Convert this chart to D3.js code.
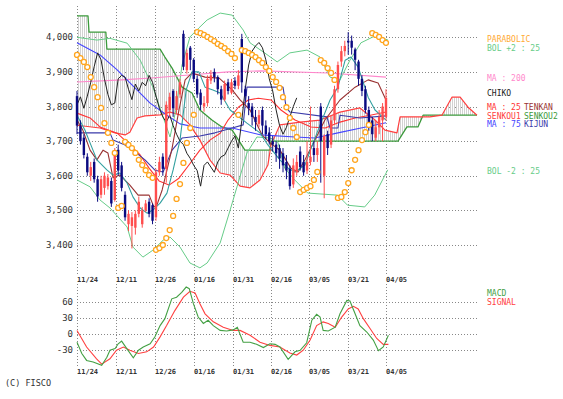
<!DOCTYPE html>
<html><head><meta charset="utf-8">
<script src="https://cdn.jsdelivr.net/npm/d3@7/dist/d3.min.js"></script>
<style>body{margin:0;background:#fff}svg{display:block}</style>
</head><body>
<svg id="chart" width="563" height="399"></svg>
<script>
// ---------- data ----------
const dateLabels = ["11/24","12/11","12/26","01/16","01/31","02/16","03/05","03/21","04/05"];
const dateTickIdx = [0, 11.4, 22.7, 34.1, 45.4, 56.5, 67.6, 79, 90];
const priceTicks = [3400,3500,3600,3700,3800,3900,4000];
const macdTicks = [60,30,0,-30];

const opens  = [3830,3745,3710,3655,3600,3640,3590,3545,3565,3570,3585,3530,3675,3630,3545,3460,3455,3450,3490,3460,3500,3525,3515,3480,3610,3655,3620,3790,3845,3790,3835,4010,3905,3970,3935,3880,3840,3800,3810,3875,3900,3885,3850,3820,3870,3840,3875,3860,3995,3850,3810,3800,3770,3750,3790,3745,3725,3700,3690,3680,3665,3640,3620,3575,3610,3670,3640,3615,3640,3680,3660,3800,3600,3720,3690,3760,3850,3930,3960,3990,3990,3965,3930,3880,3850,3790,3760,3710,3740,3760,3770];
const highs  = [3845,3760,3720,3665,3640,3650,3600,3600,3610,3605,3595,3680,3690,3640,3555,3500,3495,3500,3540,3510,3530,3535,3520,3620,3655,3665,3815,3840,3850,3845,3880,4020,3965,3975,3940,3890,3850,3830,3890,3905,3910,3890,3860,3875,3880,3880,3885,3905,4010,3860,3830,3810,3790,3790,3800,3760,3740,3715,3700,3690,3680,3660,3630,3650,3660,3685,3660,3700,3800,3700,3700,3810,3720,3730,3775,3860,3930,3975,3990,4015,4005,3970,3935,3890,3860,3800,3770,3760,3790,3810,3850];
const lows   = [3720,3690,3650,3600,3585,3580,3525,3535,3545,3560,3510,3525,3600,3555,3470,3440,3390,3430,3480,3450,3495,3480,3460,3470,3600,3600,3580,3770,3770,3780,3825,3905,3895,3905,3870,3825,3790,3785,3800,3865,3870,3835,3805,3815,3835,3835,3850,3850,3840,3815,3775,3745,3730,3740,3720,3705,3690,3670,3640,3620,3610,3590,3560,3565,3600,3615,3600,3605,3630,3640,3640,3580,3535,3660,3680,3750,3840,3915,3945,3950,3950,3905,3860,3830,3780,3730,3700,3700,3720,3700,3760];
const closes = [3745,3700,3660,3610,3625,3590,3540,3590,3600,3595,3520,3660,3615,3565,3480,3490,3480,3490,3525,3500,3520,3490,3470,3610,3640,3620,3805,3828,3795,3830,3870,3915,3955,3935,3880,3835,3805,3810,3880,3890,3885,3850,3820,3865,3845,3870,3860,3890,3870,3830,3795,3770,3755,3775,3745,3720,3700,3690,3665,3650,3630,3615,3570,3630,3640,3625,3610,3640,3655,3660,3680,3700,3715,3680,3760,3850,3920,3960,3975,3985,3970,3935,3880,3845,3790,3745,3720,3740,3770,3800,3825];

// [day index, value] pairs
const ma25 = [[0,3781],[3.8,3767],[6.7,3741],[11.7,3723],[15.4,3689],[18.4,3660],[21,3622],[23.9,3585],[26.8,3573],[29.7,3593],[32.6,3631],[35.8,3674],[38.7,3703],[41.7,3723],[44,3761],[47,3798],[49.9,3819],[52.8,3824],[56.5,3819],[59.4,3790],[63.5,3761],[68.2,3741],[72.3,3738],[76.6,3755],[81,3767],[85.4,3775],[90,3784]];
const ma75 = [[0,3984],[6.7,3949],[11.7,3906],[16.3,3860],[21.3,3810],[26.2,3775],[30,3750],[35.8,3738],[45.2,3738],[53.6,3718],[63.5,3712],[69.3,3709],[76,3724],[82.7,3738],[90,3753]];
const ma200 = [[0,3871],[13.1,3877],[22.7,3883],[32.6,3891],[44,3900],[53.6,3903],[73.1,3897],[90,3885]];
const bolUpper = [[0,4000],[5.8,3992],[9.6,3997],[14.6,3983],[18.4,3934],[22.1,3856],[25.1,3769],[27.1,3712],[28.8,3790],[30.6,3920],[32.9,4001],[35.5,4027],[37.9,4050],[41.7,4070],[45.2,4064],[48.4,4021],[50.4,3984],[54.2,3958],[58.3,3929],[62,3955],[67,3963],[70.8,3943],[73.7,3885],[76.6,3877],[79.5,3934],[82.7,3984],[86.8,4004],[90.6,3992]];
const bolLower = [[0,3588],[3.8,3568],[6.7,3530],[9.6,3507],[14.6,3452],[16.3,3394],[19.2,3365],[22.1,3385],[25.1,3414],[27.1,3423],[30,3394],[32.9,3348],[35.8,3334],[37.9,3348],[41.7,3406],[44.6,3501],[46.6,3568],[49.5,3666],[52.4,3712],[56.2,3709],[58.5,3697],[60.5,3622],[63.4,3588],[67.2,3550],[75.9,3544],[78.8,3515],[83.8,3510],[86.7,3544],[90.5,3617]];
const sarIdx = [0,1,2,3,4,5,6,7,8,9,10,11,12,13,14,15,16,17,18,19,20,21,22,23,24,25,26,27,28,29,30,31,32,33,34,35,36,37,38,39,40,41,42,43,44,45,46,47,48,49,50,51,52,53,54,55,56,57,58,59,60,61,62,63,64,65,66,67,68,69,70,71,72,73,74,75,76,77,78,79,80,81,82,83,84,85,86,87,88,89,90];
const sarVal = [3949,3940,3929,3914,3885,3856,3827,3796,3752,3724,3695,3666,3507,3513,3698,3689,3680,3666,3646,3631,3616,3602,3594,3386,3391,3400,3420,3443,3484,3533,3576,3637,3695,3738,3776,4015,4012,4007,4001,3995,3989,3981,3975,3969,3960,3952,3940,3776,3963,3960,3955,3949,3943,3934,3926,3914,3903,3885,3871,3854,3827,3798,3767,3738,3712,3553,3559,3565,3570,3588,3611,3934,3926,3911,3897,3877,3536,3539,3553,3579,3616,3646,3674,3703,3726,3747,4012,4007,4001,3992,3984];
const tenkan = [[0,3761],[1.7,3732],[3.8,3674],[5.8,3646],[7.6,3674],[9,3666],[10.5,3594],[12.5,3602],[15.4,3573],[17.8,3544],[21,3544],[22.4,3510],[23.3,3516],[24.8,3559],[26.2,3616],[27.7,3680],[29.7,3790],[31.5,3877],[33.5,3897],[37.3,3885],[41.4,3882],[45.2,3848],[47.5,3819],[50.4,3790],[53.9,3718],[56.2,3695],[59.1,3674],[62.3,3622],[64.4,3611],[66.4,3646],[69.3,3703],[72.2,3761],[76.6,3819],[81,3856],[84.8,3877],[87.7,3868],[90,3819]];
const kijun = [[0,3724],[9.6,3724],[10.5,3703],[14,3689],[16.9,3669],[19.8,3646],[22.7,3616],[25.1,3611],[26.5,3646],[27.7,3674],[30.6,3709],[35.8,3715],[40.2,3724],[45.2,3738],[48.4,3747],[49.5,3856],[60,3856],[60.9,3799],[62,3784],[72.8,3770],[73.7,3738],[76,3738],[76.6,3775],[82.4,3767],[90,3773]];
const shortLine = [[0,3775],[2.3,3732],[3.8,3695],[5.8,3646],[8.7,3617],[10.5,3602],[12.5,3608],[14.6,3579],[16.3,3539],[18.4,3507],[20.4,3492],[22.1,3501],[24.2,3521],[26.2,3550],[28,3617],[30,3703],[31.8,3848],[33.5,3900],[35.5,3900],[37.3,3856],[39.6,3848],[41.7,3839],[44.6,3790],[49.5,3752],[53.3,3724],[55.6,3689],[59.1,3646],[61.5,3622],[63.5,3611],[66.4,3631],[68.2,3680],[70.8,3747],[73.7,3819],[76,3856],[78.1,3934],[79.8,3943],[81.9,3914],[84.8,3827],[86.8,3790],[90,3761]];
const senkouA = [[0,3746],[6.7,3738],[11.1,3724],[14,3718],[15.4,3726],[17.5,3767],[19.8,3773],[24.2,3776],[27.1,3784],[30,3776],[32.9,3747],[35.8,3703],[38.7,3646],[41.7,3608],[44.6,3602],[47.5,3570],[50.4,3565],[53.3,3588],[55.6,3631],[56.5,3689],[59.1,3747],[65,3755],[70.8,3761],[76.6,3784],[82.4,3796],[86.8,3761],[89.7,3732],[93.2,3724],[94.1,3770],[102.8,3770],[106.3,3775],[109.2,3827],[111.6,3827],[113.9,3798],[116.5,3775]];
const senkouB = [[0,4062],[3.2,4062],[3.5,4015],[8.4,4015],[8.7,3966],[24.2,3966],[25.6,3943],[27.7,3911],[30.6,3856],[33.5,3839],[35.8,3790],[39.3,3761],[42.2,3741],[45.2,3732],[48.9,3674],[56.2,3674],[56.5,3700],[93.5,3700],[96.1,3741],[99.3,3741],[100.8,3775],[116.5,3775]];
const macd = [[0,-16],[1.4,-37],[2.8,-50],[4.7,-53],[7.2,-59],[8.7,-44],[9.6,-31],[11.1,-28],[12,-19],[13,-14],[14.5,-28],[16.4,-45],[17.9,-31],[19.3,-25],[21.3,-19],[22.7,-6],[24.2,15],[25.6,28],[27.6,65],[29,68],[30.5,77],[31.8,87],[32.7,84],[33.9,56],[35.3,31],[36.8,19],[38.2,25],[39.7,15],[41.7,6],[43.6,5],[45.5,7],[46.7,12],[48.4,-16],[50.4,-16],[52.3,-20],[54.3,-26],[56.2,-19],[57.7,-20],[59.1,-25],[61.5,-48],[63.5,-34],[65,-31],[66.9,-17],[68.4,25],[69.8,36],[70.8,31],[71.7,6],[73.2,5],[75.2,12],[76.6,37],[78.6,62],[79.5,61],[81,37],[82.4,15],[84.4,3],[86.3,-12],[87.8,-32],[89.2,-25],[90.7,-3]];
const signal = [[0,6],[2.8,-25],[5.7,-47],[7.2,-57],[9.6,-47],[11.5,-31],[13.5,-25],[15.4,-31],[17.9,-37],[20.3,-34],[22.3,-25],[24.2,-6],[26.1,15],[28.5,43],[31,68],[32.9,79],[34.4,76],[35.8,56],[37.3,37],[39.7,22],[42.6,12],[45.5,6],[47.5,6],[50.4,-3],[53.3,-16],[56.2,-22],[59.1,-25],[62,-36],[64,-40],[65.9,-31],[67.9,-12],[69.8,15],[71.7,22],[73.2,19],[75.2,12],[77.1,31],[79,46],[80.5,51],[81.9,46],[83.4,28],[85.4,9],[87.3,-9],[89.2,-20],[90.7,-20]];
const chikouShift = 26;

// ---------- drawing ----------
const svg = d3.select("#chart");
const x = d3.scaleLinear().domain([0, 90]).range([77, 386]);
const y = d3.scaleLinear().domain([3400, 4000]).range([245, 37.3]);
const ym = d3.scaleLinear().domain([-30, 60]).range([349.7, 301.5]);
const xEnd = x(116.9);
const mono = "'DejaVu Sans Mono', monospace";

const defs = svg.append("defs");
const pat = defs.append("pattern").attr("id","hatch").attr("patternUnits","userSpaceOnUse")
  .attr("width",2).attr("height",4);
pat.append("line").attr("x1",0.5).attr("x2",0.5).attr("y1",0).attr("y2",4)
  .attr("stroke","#d2d2d2").attr("stroke-width",1);
defs.append("clipPath").attr("id","mainclip").append("rect")
  .attr("x",70).attr("y",4).attr("width",xEnd-70+2).attr("height",272);

const grid = svg.append("g").attr("stroke","#888").attr("stroke-dasharray","1,2").attr("stroke-width",1);
priceTicks.forEach(v => grid.append("line").attr("x1",x(0)).attr("x2",xEnd).attr("y1",Math.round(y(v))+0.5).attr("y2",Math.round(y(v))+0.5));
macdTicks.forEach(v => grid.append("line").attr("x1",x(0)).attr("x2",xEnd).attr("y1",Math.round(ym(v))+0.5).attr("y2",Math.round(ym(v))+0.5));
dateTickIdx.forEach(i => {
  const xx = Math.round(x(i))+0.5;
  grid.append("line").attr("x1",xx).attr("x2",xx).attr("y1",6).attr("y2",274);
  grid.append("line").attr("x1",xx).attr("x2",xx).attr("y1",284).attr("y2",367);
});

const main = svg.append("g").attr("clip-path","url(#mainclip)");
const line = d3.line().x(d => x(d[0])).y(d => y(d[1]));

// cloud hatch between senkou spans
const poly = senkouA.map(d => [x(d[0]), y(d[1])]).concat(senkouB.slice().reverse().map(d => [x(d[0]), y(d[1])]));
main.append("path").attr("d", "M" + poly.join("L") + "Z").attr("fill","url(#hatch)").attr("stroke","none");

function drawLine(data, color, w) {
  main.append("path").datum(data).attr("d", line).attr("fill","none")
    .attr("stroke", color).attr("stroke-width", w || 1.1).attr("stroke-linejoin","round");
}
drawLine(senkouB, "#3c9a3c", 1.3);
drawLine(senkouA, "#ff4040", 1.2);
drawLine(bolUpper, "#66cc88", 1);
drawLine(bolLower, "#66cc88", 1);
drawLine(ma200, "#ff88cc", 1.1);
drawLine(ma75, "#4444ff", 1.1);
drawLine(ma25, "#ff3333", 1.1);
drawLine(kijun, "#3b3baa", 1.1);
drawLine(tenkan, "#993333", 1.1);
drawLine(shortLine, "#33a0a0", 1.1);
const chikou = closes.slice(chikouShift).map((c, j) => [j, c]);
drawLine(chikou, "#222222", 1);

// candles
const cg = main.append("g");
closes.forEach((c, i) => {
  const up = c >= opens[i];
  const col = up ? "#ff4d4d" : "#0a0a80";
  const cx = x(i);
  cg.append("line").attr("x1",cx).attr("x2",cx).attr("y1",y(highs[i])).attr("y2",y(lows[i]))
    .attr("stroke",col).attr("stroke-width",1);
  const top = y(Math.max(c, opens[i])), bot = y(Math.min(c, opens[i]));
  cg.append("rect").attr("x",cx-1.2).attr("width",2.4).attr("y",top).attr("height",Math.max(1,bot-top)).attr("fill",col);
});

// parabolic SAR
sarIdx.forEach((i, k) => {
  main.append("circle").attr("cx",x(i)).attr("cy",y(sarVal[k])).attr("r",2.5)
    .attr("fill","#fff").attr("stroke","#ffa51e").attr("stroke-width",1.3);
});

// MACD
const lineM = d3.line().x(d => x(d[0])).y(d => ym(d[1]));
svg.append("path").datum(signal).attr("d",lineM).attr("fill","none").attr("stroke","#ff4040").attr("stroke-width",1.1);
svg.append("path").datum(macd).attr("d",lineM).attr("fill","none").attr("stroke","#44a044").attr("stroke-width",1.1);

// axis labels
const txt = svg.append("g").attr("font-family", mono).attr("fill","#333");
priceTicks.forEach(v => txt.append("text").attr("x",73).attr("y",y(v)+3).attr("text-anchor","end")
  .attr("font-size",9).text(d3.format(",")(v)));
macdTicks.forEach(v => txt.append("text").attr("x",73).attr("y",ym(v)+3).attr("text-anchor","end")
  .attr("font-size",9).text(v));
dateTickIdx.forEach((i, k) => {
  [282, 374].forEach(by => txt.append("text").attr("x",Math.round(x(i))).attr("y",by)
    .attr("font-size",7).attr("font-weight","bold").text(dateLabels[k]));
});
txt.append("text").attr("x",5).attr("y",386).attr("font-size",8.5).text("(C) FISCO");

// legends: [text, colour, x, baseline]
const legends = [
  ["PARABOLIC", "#ffaa33", 487, 42],
  ["BOL +2 : 25", "#66cc88", 487, 51],
  ["MA : 200", "#ff88cc", 487, 81],
  ["CHIKO", "#222222", 487, 96],
  ["MA : 25", "#ff3333", 487, 110],
  ["TENKAN", "#993333", 524, 110],
  ["SENKOU1", "#ff4040", 487, 118.5],
  ["SENKOU2", "#3c9a3c", 524, 118.5],
  ["MA : 75", "#4444ff", 487, 127],
  ["KIJUN", "#3b3baa", 524, 127],
  ["BOL -2 : 25", "#66cc88", 487, 174],
  ["MACD", "#44a044", 487, 296],
  ["SIGNAL", "#ff4040", 487, 305]
];
legends.forEach(l => svg.append("text").attr("x",l[2]).attr("y",l[3]).attr("font-family",mono)
  .attr("font-size",8).attr("fill",l[1]).text(l[0]));
</script>
</body></html>
